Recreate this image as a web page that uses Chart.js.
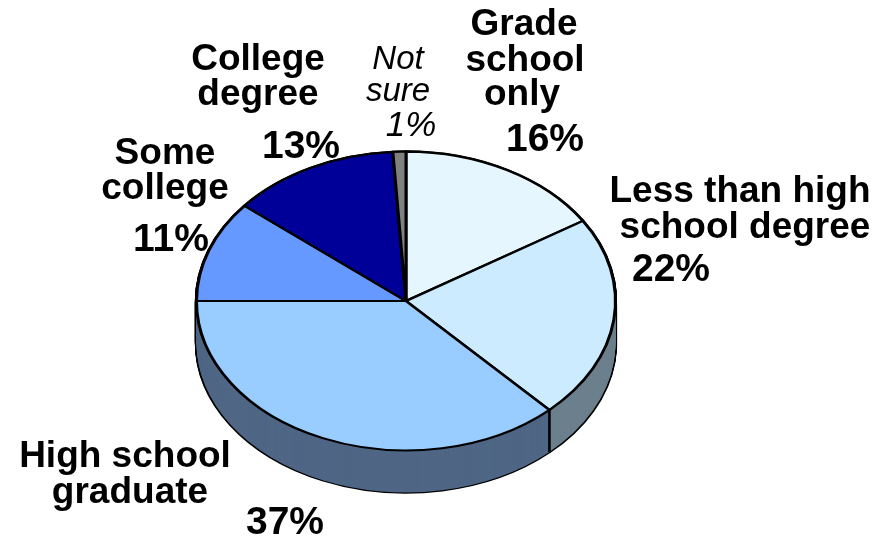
<!DOCTYPE html>
<html>
<head>
<meta charset="utf-8">
<style>html,body{margin:0;padding:0;background:#fff}canvas{display:block}</style>
<script src="https://cdn.jsdelivr.net/npm/chart.js@4"></script>
</head>
<body>
<canvas id="c" width="892" height="537"></canvas>
<script>
const categories = ["Grade school only","Less than high school degree","High school graduate","Some college","College degree","Not sure"];
const values = [16,22,37,11,13,1];
const categoryLines = [["Grade","school","only"],["Less than high","school degree"],["High school","graduate"],["Some","college"],["College","degree"],["Not","sure"]];
const sliceColors = ["#E5F6FF","#CCEBFF","#99CCFF","#6699FF","#000099","#808080"];
const wallColors = ["#727F86","#6B7F8C","#4F6685","#3D5C99","#00005C","#4D4D4D"];

const TILT = 150.5/211, DEPTH = 42;
// text placement: [centre x, baseline y] per line, the last one being the percentage
const labelPlaces = [
  [[524,35],[525,71],[522,105],[545,151]],
  [[740,202],[745,238],[671,281]],
  [[125,467],[130,503],[285,534]],
  [[165,164],[165,199],[171,251]],
  [[258,70],[258,105],[301,158]],
  [[398,69],[398,101],[411,136]]
];

function withOptions(arc, over, fn){
  const saved = arc.options;
  arc.options = Object.assign(Object.create(saved), over);
  fn();
  arc.options = saved;
}
const pie3d = {
  id:'pie3d',
  beforeDatasetsDraw(chart){
    const ctx = chart.ctx, arcs = chart.getDatasetMeta(0).data;
    const cy = arcs[0].y;
    const squash = d => { ctx.translate(0, cy + d); ctx.scale(1, TILT); ctx.translate(0, -cy); };
    // outline of the extruded body
    for(let d=DEPTH;d>=0;d--){
      ctx.save(); squash(d);
      arcs.forEach(a=>withOptions(a,{backgroundColor:'#000',borderColor:'#000',borderWidth:3.4},()=>a.draw(ctx)));
      ctx.restore();
    }
    // side walls
    for(let d=DEPTH;d>=0;d--){
      ctx.save(); squash(d);
      arcs.forEach((a,i)=>withOptions(a,{backgroundColor:wallColors[i],borderColor:wallColors[i],borderWidth:0},()=>a.draw(ctx)));
      ctx.restore();
    }
    // vertical edge where two front slices meet
    const front = arcs[1], ang = front.endAngle;
    const ex = front.x + front.outerRadius*Math.cos(ang);
    const ey = cy + front.outerRadius*Math.sin(ang)*TILT;
    ctx.save(); ctx.strokeStyle='#000'; ctx.lineWidth=2.6;
    ctx.beginPath(); ctx.moveTo(ex,ey); ctx.lineTo(ex,ey+DEPTH); ctx.stroke(); ctx.restore();
    ctx.save(); squash(0);
  },
  afterDatasetsDraw(chart){
    chart.ctx.restore();
    const ctx = chart.ctx;
    ctx.save();
    ctx.fillStyle='#000'; ctx.textAlign='center'; ctx.textBaseline='alphabetic';
    categoryLines.forEach((lines,i)=>{
      const textFont = i===5 ? 'italic 33px "Liberation Sans"' : 'bold 37px "Liberation Sans"';
      const pctFont = i===5 ? 'italic 35px "Liberation Sans"' : 'bold 39px "Liberation Sans"';
      lines.forEach((t,j)=>{
        const p = labelPlaces[i][j];
        ctx.font = textFont;
        ctx.fillText(t,p[0],p[1]);
      });
      const q = labelPlaces[i][lines.length];
      ctx.font = pctFont;
      ctx.fillText(values[i]+'%',q[0],q[1]);
    });
    ctx.restore();
  }
};
new Chart(document.getElementById('c'),{
  type:'pie',
  data:{labels:categories,datasets:[{data:values,backgroundColor:sliceColors,borderColor:'#000',borderWidth:3,clip:false}]},
  options:{
    responsive:false,animation:false,
    layout:{padding:{left:195,top:90,right:275,bottom:25}},
    plugins:{legend:{display:false},tooltip:{enabled:false}}
  },
  plugins:[pie3d]
});
</script>
</body>
</html>
